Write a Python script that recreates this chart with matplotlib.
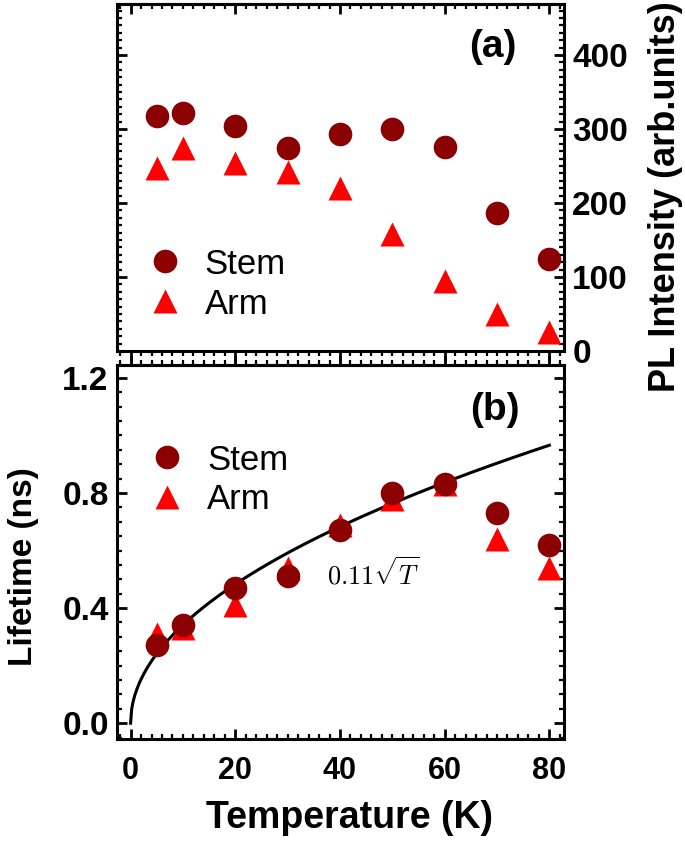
import numpy as np
import matplotlib
matplotlib.use('Agg')
import matplotlib.pyplot as plt
from matplotlib.ticker import MultipleLocator
from matplotlib.lines import Line2D

plt.rcParams['font.family'] = ['Liberation Sans', 'DejaVu Sans']
plt.rcParams['mathtext.fontset'] = 'cm'

# datos
temps = [5, 10, 20, 30, 40, 50, 60, 70, 80]
pl_stem = [317, 321, 304, 274, 293, 300, 276, 187, 125]
pl_arm = [247, 274, 254, 242, 220, 158, 94, 50, 26]
tau_stem = [0.27, 0.34, 0.47, 0.51, 0.67, 0.80, 0.83, 0.73, 0.62]
tau_arm = [0.31, 0.33, 0.41, 0.54, 0.69, 0.78, 0.83, 0.64, 0.54]
fit_coef = 0.108

stem_color = '#8b0000'
arm_color = '#ff0000'
ms = 17
lw_spine = 2.2

fig = plt.figure(figsize=(6.85, 8.46), dpi=100)
ax1 = fig.add_axes([0.1708, 0.5851, 0.6526, 0.4102])
ax2 = fig.add_axes([0.1708, 0.1265, 0.6526, 0.4421])

xlim = (-2.6, 82.8)


def estilo(ax):
    for s in ax.spines.values():
        s.set_linewidth(lw_spine)
    ax.tick_params(which='major', length=7, width=2)
    ax.tick_params(which='minor', length=3.5, width=1.6)
    ax.xaxis.set_major_locator(MultipleLocator(20))
    ax.xaxis.set_minor_locator(MultipleLocator(2))


def eje_sec(ax, direc):
    sec = ax.secondary_xaxis('top')
    sec.xaxis.set_major_locator(MultipleLocator(20))
    sec.xaxis.set_minor_locator(MultipleLocator(2))
    sec.tick_params(which='both', direction=direc, labeltop=False)
    sec.tick_params(which='major', length=7, width=2)
    sec.tick_params(which='minor', length=3.5, width=1.6)
    sec.spines['top'].set_linewidth(lw_spine)
    return sec


# (a) intensidad PL
ax1.plot(temps, pl_stem, 'o', color=stem_color, ms=ms, mec='none')
ax1.plot(temps, pl_arm, '^', color=arm_color, ms=ms, mec='none')
ax1.set_xlim(*xlim)
ax1.set_ylim(0, 469)
estilo(ax1)
ax1.yaxis.set_major_locator(MultipleLocator(100))
ax1.yaxis.set_minor_locator(MultipleLocator(10))
ax1.tick_params(axis='y', which='both', direction='in', left=True, right=True,
                labelleft=False, labelright=True)
ax1.tick_params(axis='y', labelsize=24, pad=6)
ax1.tick_params(axis='x', which='both', direction='out', bottom=True, top=False,
                labelbottom=False)
for t in ax1.get_yticklabels():
    t.set_fontweight('bold')
eje_sec(ax1, 'in')
ax1.yaxis.set_label_position('right')
ax1.set_ylabel('PL Intensity (arb.units)', fontsize=26, fontweight='bold')
ax1.yaxis.set_label_coords(1.188, 0.444)
ax1.text(0.841, 0.876, '(a)', transform=ax1.transAxes, fontsize=28,
         fontweight='bold', ha='center', va='center')

handles = [Line2D([], [], marker='o', ls='none', color=stem_color, ms=ms, mec='none'),
           Line2D([], [], marker='^', ls='none', color=arm_color, ms=ms, mec='none')]
ax1.legend(handles, ['Stem', 'Arm'], loc='center left', bbox_to_anchor=(0.068, 0.193),
           frameon=False, fontsize=25, handlelength=1.0, handletextpad=0.65,
           borderpad=0, borderaxespad=0, labelspacing=0.2)

# (b) tiempo de vida
tt = np.linspace(0, 80, 400)
ax2.plot(tt, fit_coef * np.sqrt(tt), color='black', lw=2.2, zorder=1)
ax2.plot(temps, tau_arm, '^', color=arm_color, ms=ms, mec='none', zorder=2)
ax2.plot(temps, tau_stem, 'o', color=stem_color, ms=ms, mec='none', zorder=3)
ax2.set_xlim(*xlim)
ax2.set_ylim(-0.055, 1.245)
estilo(ax2)
ax2.yaxis.set_major_locator(MultipleLocator(0.4))
ax2.yaxis.set_minor_locator(MultipleLocator(0.05))
ax2.set_yticks([0.0, 0.4, 0.8, 1.2])
ax2.set_yticklabels(['0.0', '0.4', '0.8', '1.2'])
ax2.tick_params(axis='y', which='both', direction='in', left=True, right=True)
ax2.tick_params(axis='y', labelsize=24, pad=6)
ax2.tick_params(axis='x', which='both', direction='in', bottom=True, top=False)
ax2.tick_params(axis='x', labelsize=22, pad=12)
for t in ax2.get_xticklabels() + ax2.get_yticklabels():
    t.set_fontweight('bold')
eje_sec(ax2, 'out')
ax2.set_ylabel('Lifetime (ns)', fontsize=24, fontweight='bold')
ax2.yaxis.set_label_coords(-0.174, 0.46)
ax2.set_xlabel('Temperature (K)', fontsize=27, fontweight='bold')
ax2.xaxis.set_label_coords(0.521, -0.163)
ax2.text(0.846, 0.880, '(b)', transform=ax2.transAxes, fontsize=28,
         fontweight='bold', ha='center', va='center')
ax2.text(46.3, 0.52, r'$0.11\sqrt{T}$', fontsize=19, ha='center', va='center')
ax2.legend(handles, ['Stem', 'Arm'], loc='center left', bbox_to_anchor=(0.073, 0.6925),
           frameon=False, fontsize=25, handlelength=1.0, handletextpad=0.65,
           borderpad=0, borderaxespad=0, labelspacing=0.2)

fig.savefig('out.png', dpi=100)
